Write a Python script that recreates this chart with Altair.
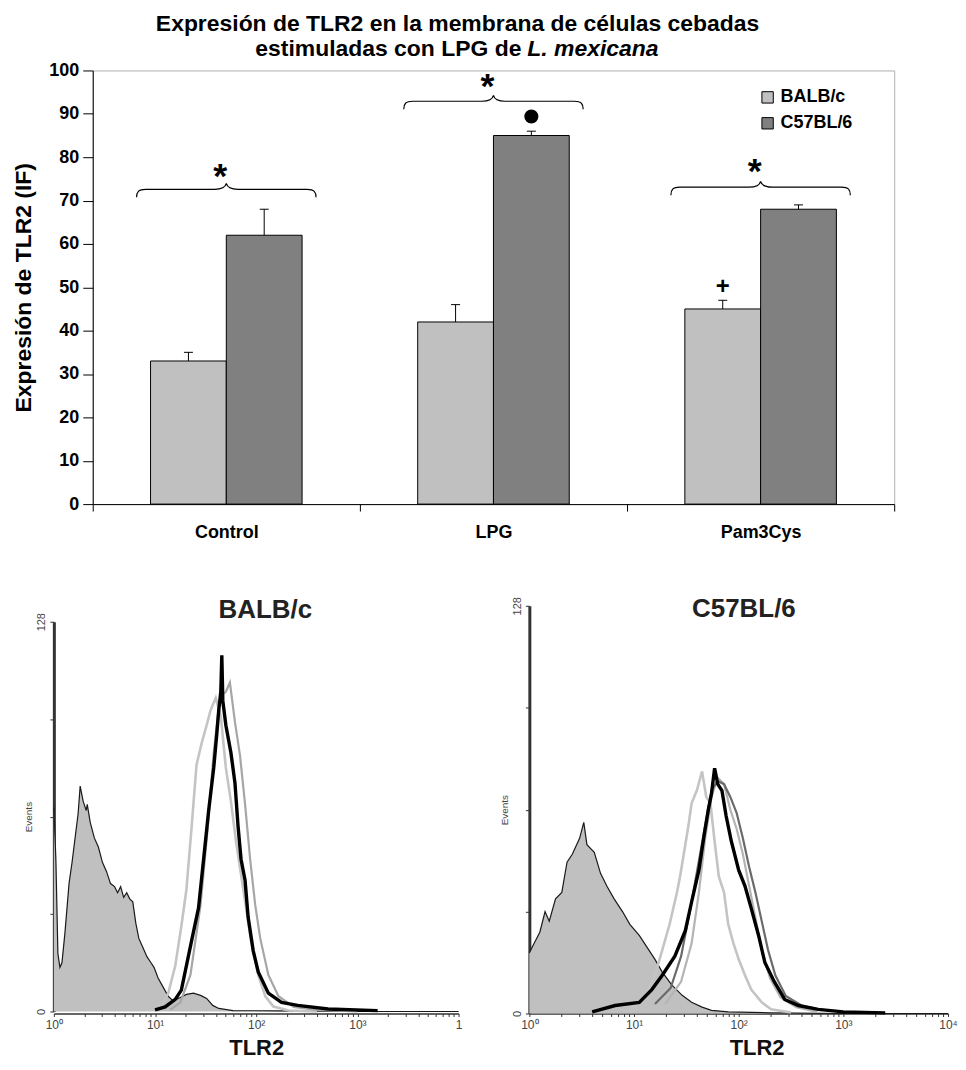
import altair as alt
import numpy as np
import pandas as pd

FONT = "Liberation Sans"

# ---------------- bar chart data ----------------
categories = ["Control", "LPG", "Pam3Cys"]
strains = ["BALB/c", "C57BL/6"]
balb_mean = [33, 42, 45]
balb_err = [2, 4, 2]
c57_mean = [62, 85, 68]
c57_err = [6, 1, 1]
brace_level = [72.6, 92.9, 73.1]
star_level = [75.4, 96.1, 76.5]
bullet_level = 89.4      # marker over LPG / C57BL/6
plus_level = 50.0        # marker over Pam3Cys / BALB/c
title_line1 = "Expresión de TLR2 en la membrana de células cebadas"
title_line2_plain = "estimuladas con LPG de"
title_line2_italic = "L. mexicana"
y_title = "Expresión de TLR2 (IF)"

# ---------------- histogram data (log10 decades, events) ----------------
L_iso_x = [0.00, 0.02, 0.04, 0.06, 0.08, 0.11, 0.15, 0.18, 0.21, 0.24, 0.26, 0.29, 0.32, 0.33, 0.36, 0.40,
           0.44, 0.48, 0.52, 0.56, 0.60, 0.63, 0.66, 0.69, 0.72, 0.75, 0.78, 0.81, 0.84, 0.88, 0.92, 0.96,
           0.99, 1.03, 1.08, 1.13, 1.18, 1.25, 1.31, 1.38, 1.45, 1.51, 1.57, 1.63, 1.77, 2.20, 3.00, 4.00]
L_iso_y = [67, 50, 19, 14.5, 16, 26, 42, 49, 57, 65, 74, 69, 66, 68, 62, 57,
           54, 49, 46, 42, 41, 39, 41, 37.5, 39, 37, 36, 29, 24, 21, 18, 16,
           14.5, 11, 8, 5, 3.5, 4.6, 5.6, 6, 5.3, 4.3, 2, 1, 0.3, 0.2, 0, 0]
L_g1_x = [1.00, 1.08, 1.13, 1.20, 1.26, 1.31, 1.36, 1.41, 1.46, 1.51, 1.55, 1.60, 1.65, 1.70, 1.75, 1.80,
          1.85, 1.90, 1.95, 2.02, 2.09, 2.17, 2.32, 2.60]
L_g1_y = [0.5, 3, 6, 15, 28, 40, 60, 81, 88, 94, 99, 103, 97, 80, 69, 56, 45, 34, 23, 12, 5, 1.6, 0.3, 0]
L_g2_x = [1.15, 1.25, 1.35, 1.45, 1.52, 1.58, 1.63, 1.66, 1.70, 1.74, 1.79, 1.84, 1.89, 1.94, 1.99, 2.04,
          2.12, 2.22, 2.37, 2.60, 3.00]
L_g2_y = [0.5, 3, 12, 35, 60, 85, 100, 104, 105, 108, 95, 84, 68, 50, 35, 24, 12, 5, 1.5, 0.5, 0]
L_bk_x = [1.00, 1.10, 1.20, 1.26, 1.36, 1.43, 1.48, 1.53, 1.58, 1.61, 1.63, 1.65, 1.66, 1.67, 1.70, 1.75,
          1.79, 1.82, 1.85, 1.89, 1.92, 1.97, 2.02, 2.12, 2.25, 2.41, 2.71, 3.20]
L_bk_y = [0.5, 1.5, 4, 7, 23, 34, 50, 66, 80, 91, 99, 105, 117, 102, 94, 85, 75, 61, 50, 43, 31, 20, 13, 6,
          3, 2, 0.8, 0.3]

R_iso_x = [0.00, 0.03, 0.10, 0.15, 0.19, 0.25, 0.31, 0.36, 0.41, 0.48, 0.52, 0.55, 0.62, 0.68, 0.74, 0.81,
           0.89, 0.96, 1.05, 1.10, 1.20, 1.27, 1.36, 1.46, 1.55, 1.65, 1.74, 1.90, 2.30, 3.00, 4.00]
R_iso_y = [19, 21, 25.5, 32, 29, 36, 38, 47.5, 50, 55, 60, 53, 50.6, 44, 40, 36, 32, 28, 24.5, 22, 17, 13, 9,
           5.7, 3.5, 2, 1, 0.5, 0.2, 0, 0]
R_la_x = [1.00, 1.10, 1.20, 1.27, 1.34, 1.41, 1.44, 1.48, 1.52, 1.55, 1.60, 1.65, 1.69, 1.73, 1.77, 1.81,
          1.86, 1.90, 1.95, 2.00, 2.06, 2.12, 2.22, 2.31, 2.50]
R_la_y = [2, 5, 12, 20, 28, 38, 43, 51, 59, 66, 70, 76, 68, 66, 54, 43, 38, 28, 22, 17, 12, 7.5, 3.5, 1.3, 0.3]
R_lb_x = [1.30, 1.45, 1.55, 1.62, 1.68, 1.74, 1.80, 1.86, 1.92, 1.98, 2.04, 2.10, 2.16, 2.22, 2.30, 2.40,
          2.55, 2.75]
R_lb_y = [3, 10, 22, 38, 55, 68, 74, 72, 64, 58, 50, 40, 30, 20, 11, 5, 2, 0.5]
R_dg_x = [1.20, 1.35, 1.45, 1.55, 1.62, 1.68, 1.74, 1.80, 1.86, 1.92, 1.98, 2.04, 2.10, 2.16, 2.22, 2.28,
          2.35, 2.45, 2.60, 2.80]
R_dg_y = [3, 8, 18, 35, 48, 59, 70, 73, 72, 68, 63, 55, 46, 38, 29, 20, 12, 5.5, 2.5, 1]
R_bk_x = [0.60, 0.82, 1.05, 1.17, 1.27, 1.39, 1.49, 1.55, 1.62, 1.67, 1.71, 1.74, 1.77, 1.80, 1.84, 1.88,
          1.93, 2.00, 2.06, 2.12, 2.19, 2.25, 2.34, 2.44, 2.57, 2.76, 3.00, 3.40]
R_bk_y = [0.5, 2.5, 3.5, 7.5, 12, 18, 26, 35, 45, 56, 64, 69, 77, 72, 70, 62, 54, 45, 40, 33, 24.5, 16, 10,
          4.4, 2.5, 1.3, 0.5, 0.2]

# ---------------- tables ----------------
bar_rows = []
for i, c in enumerate(categories):
    bar_rows.append({"category": c, "strain": strains[0], "mean": balb_mean[i], "upper": balb_mean[i] + balb_err[i]})
    bar_rows.append({"category": c, "strain": strains[1], "mean": c57_mean[i], "upper": c57_mean[i] + c57_err[i]})
bars_df = pd.DataFrame(bar_rows)
ann_df = pd.DataFrame({"category": categories, "brace": brace_level, "star": star_level, "label": ["*"] * 3})
bullet_df = pd.DataFrame({"category": ["LPG"], "strain": ["C57BL/6"], "mean": [bullet_level]})
plus_df = pd.DataFrame({"category": ["Pam3Cys"], "strain": ["BALB/c"], "mean": [plus_level], "label": ["+"]})
t1_df = pd.DataFrame({"category": ["LPG"], "mean": [109.2], "txt": [title_line1]})
t2_df = pd.DataFrame({"category": ["LPG"], "mean": [103.45],
                      "plain": [title_line2_plain], "ital": [title_line2_italic]})

# ---------------- top bar chart ----------------
x_enc = alt.X("category:N",
              scale=alt.Scale(domain=categories, paddingInner=0, paddingOuter=0),
              axis=alt.Axis(title=None, labelAngle=0, labelFont=FONT, labelFontSize=18, labelFontWeight="bold",
                            labelColor="black", labelPadding=13, tickBand="extent", tickSize=7,
                            tickColor="black", domainColor="black", domainWidth=1, grid=False))
xo_enc = alt.XOffset("strain:N", scale=alt.Scale(domain=strains, paddingInner=0, paddingOuter=0.763))
y_scale = alt.Scale(domain=[0, 100], nice=False)
y_axis = alt.Axis(values=list(range(0, 101, 10)), title=y_title, titleFont=FONT, titleFontSize=23,
                  titleFontWeight="bold", titleColor="black", titlePadding=13, labelFont=FONT,
                  labelFontSize=18, labelFontWeight="bold", labelColor="black", labelPadding=4,
                  tickSize=10, tickColor="black", domainColor="black", domainWidth=1, grid=False)


def yq(field):
    return alt.Y(field + ":Q", scale=y_scale, axis=y_axis)


bars = alt.Chart(bars_df).mark_bar(stroke="black", strokeWidth=1, opacity=1).encode(
    x=x_enc, xOffset=xo_enc, y=yq("mean"),
    color=alt.Color("strain:N", scale=alt.Scale(domain=strains, range=["#c0c0c0", "#808080"]),
                    legend=alt.Legend(title=None, orient="none", legendX=668, legendY=18,
                                      symbolType="square", symbolSize=130, symbolStrokeColor="black",
                                      symbolStrokeWidth=1, symbolOpacity=1, labelFont=FONT,
                                      labelFontSize=18, labelFontWeight="bold", labelColor="black",
                                      rowPadding=8, labelOffset=4)))
err_rule = alt.Chart(bars_df).mark_rule(color="black", strokeWidth=1).encode(
    x=x_enc, xOffset=xo_enc, y=yq("mean"), y2="upper:Q")
err_cap = alt.Chart(bars_df).mark_tick(color="black", thickness=1, size=9, opacity=1).encode(
    x=x_enc, xOffset=xo_enc, y=yq("upper"))

BRACE = ("M-1,0.09 C-1,0.03 -0.98,0 -0.9,0 L-0.13,0 C-0.05,0 -0.01,-0.02 0,-0.065 "
         "C0.01,-0.02 0.05,0 0.13,0 L0.9,0 C0.98,0 1,0.03 1,0.09")
braces = alt.Chart(ann_df).mark_point(shape=BRACE, size=32400, filled=False, stroke="black",
                                      strokeWidth=1.2, opacity=1, dx=-7).encode(x=x_enc, y=yq("brace"))
stars = alt.Chart(ann_df).mark_text(font=FONT, fontSize=36, fontWeight="bold", color="black",
                                    baseline="middle", dx=-6).encode(x=x_enc, y=yq("star"), text="label:N")
bullet = alt.Chart(bullet_df).mark_point(shape="circle", filled=True, size=200, color="black",
                                         opacity=1).encode(x=x_enc, xOffset=xo_enc, y=yq("mean"))
plus = alt.Chart(plus_df).mark_text(font=FONT, fontSize=24, fontWeight="bold", color="black",
                                    baseline="middle").encode(x=x_enc, xOffset=xo_enc, y=yq("mean"),
                                                              text="label:N")
t1 = alt.Chart(t1_df).mark_text(font=FONT, fontSize=23, fontWeight="bold", color="black", align="center",
                                baseline="alphabetic", dx=-36).encode(x=x_enc, y=yq("mean"), text="txt:N")
t2a = alt.Chart(t2_df).mark_text(font=FONT, fontSize=23, fontWeight="bold", color="black", align="right",
                                 baseline="alphabetic", dx=28).encode(x=x_enc, y=yq("mean"), text="plain:N")
t2b = alt.Chart(t2_df).mark_text(font=FONT, fontSize=23, fontWeight="bold", fontStyle="italic",
                                 color="black", align="left", baseline="alphabetic",
                                 dx=34).encode(x=x_enc, y=yq("mean"), text="ital:N")

top = alt.layer(bars, err_rule, err_cap, braces, stars, bullet, plus, t1, t2a, t2b).properties(
    width=804, height=435,
    view=alt.ViewBackground(stroke="#b0b0b0", strokeWidth=1))

# ---------------- histogram panels ----------------
major_ticks = [0, 1, 2, 3, 4]
minor_ticks = [round(d + float(np.log10(k)), 4) for d in range(4) for k in range(2, 10)]


def curve_df(xs, ys):
    return pd.DataFrame({"x": xs, "y": ys})


def panel(iso, curves, title_text, title_xy, x_range, y_range, width, height, y_offset, last_label,
          tlr2_x=None):
    label_expr = ("datum.value == 0 ? '10⁰' : datum.value == 1 ? '10¹' : datum.value == 2 ? '10²' : "
                  "datum.value == 3 ? '10³' : datum.value == 4 ? '" + last_label + "' : ''")
    x_axis_kw = dict(values=major_ticks + minor_ticks, labelExpr=label_expr, title="TLR2", titleFont=FONT,
                     titleFontSize=22, titleFontWeight="bold", titleColor="#111111", titlePadding=7,
                     labelFont=FONT, labelFontSize=12, labelColor="#444444", labelPadding=3,
                     labelOverlap=False, labelFlush=False, tickSize=3, tickColor="#333333",
                     domainColor="#333333", domainWidth=1.5, grid=False)
    if tlr2_x is not None:
        x_axis_kw["titleX"] = tlr2_x
    xs_kw = dict(domain=[0, 4], nice=False, zero=False)
    if x_range is not None:
        xs_kw["range"] = x_range
    ys_kw = dict(domain=[0, 128], nice=False)
    if y_range is not None:
        ys_kw["range"] = y_range
    xe = alt.X("x:Q", scale=alt.Scale(**xs_kw), axis=alt.Axis(**x_axis_kw))
    ye = alt.Y("y:Q", scale=alt.Scale(**ys_kw),
               axis=alt.Axis(values=[0, 32, 64, 96, 128],
                             labelExpr="datum.value == 0 || datum.value == 128 ? datum.label : ''",
                             labelAngle=270, labelAlign="center", labelBaseline="bottom", labelFont=FONT,
                             labelFontSize=11, labelColor="#444444", labelPadding=3, tickSize=4,
                             tickColor="#333333", title="Events", titleFont=FONT, titleFontSize=10,
                             titleFontWeight="normal", titleColor="#444444", titlePadding=2,
                             domainColor="#333333", domainWidth=3, offset=y_offset, grid=False))
    layers = [alt.Chart(iso).mark_area(color="#c0c0c0", opacity=1,
                                       line={"color": "#1a1a1a", "strokeWidth": 1.2}).encode(x=xe, y=ye)]
    for df, col, sw in curves:
        layers.append(alt.Chart(df).mark_line(color=col, strokeWidth=sw, opacity=1).encode(x=xe, y=ye))
    tdf = pd.DataFrame({"x": [title_xy[0]], "y": [title_xy[1]], "label": [title_text]})
    layers.append(alt.Chart(tdf).mark_text(font=FONT, fontSize=26, fontWeight="bold", color="#222222",
                                           baseline="middle").encode(x=xe, y=ye, text="label:N"))
    return alt.layer(*layers).properties(width=width, height=height)


left = panel(curve_df(L_iso_x, L_iso_y),
             [(curve_df(L_g1_x, L_g1_y), "#c4c4c4", 2.6),
              (curve_df(L_g2_x, L_g2_y), "#a6a6a6", 2.2),
              (curve_df(L_bk_x, L_bk_y), "#000000", 3.4)],
             "BALB/c", (2.09, 132), [-39, 367], [407, 16], 367, 409, 39, "1")
right = panel(curve_df(R_iso_x, R_iso_y),
              [(curve_df(R_la_x, R_la_y), "#c4c4c4", 2.6),
               (curve_df(R_lb_x, R_lb_y), "#b4b4b4", 2.2),
               (curve_df(R_dg_x, R_dg_y), "#6a6a6a", 2.2),
               (curve_df(R_bk_x, R_bk_y), "#000000", 3.4)],
              "C57BL/6", (2.05, 127), None, None, 420, 409, 0, "10⁴", tlr2_x=228)

bottom = alt.hconcat(left, right, spacing=0)

chart = alt.vconcat(top, bottom, spacing=52).properties(
    padding={"left": 4, "top": 2, "right": 0, "bottom": 0}
).configure_view(stroke="transparent")

chart.save("out.html", embed_options={"renderer": "svg", "actions": False})
